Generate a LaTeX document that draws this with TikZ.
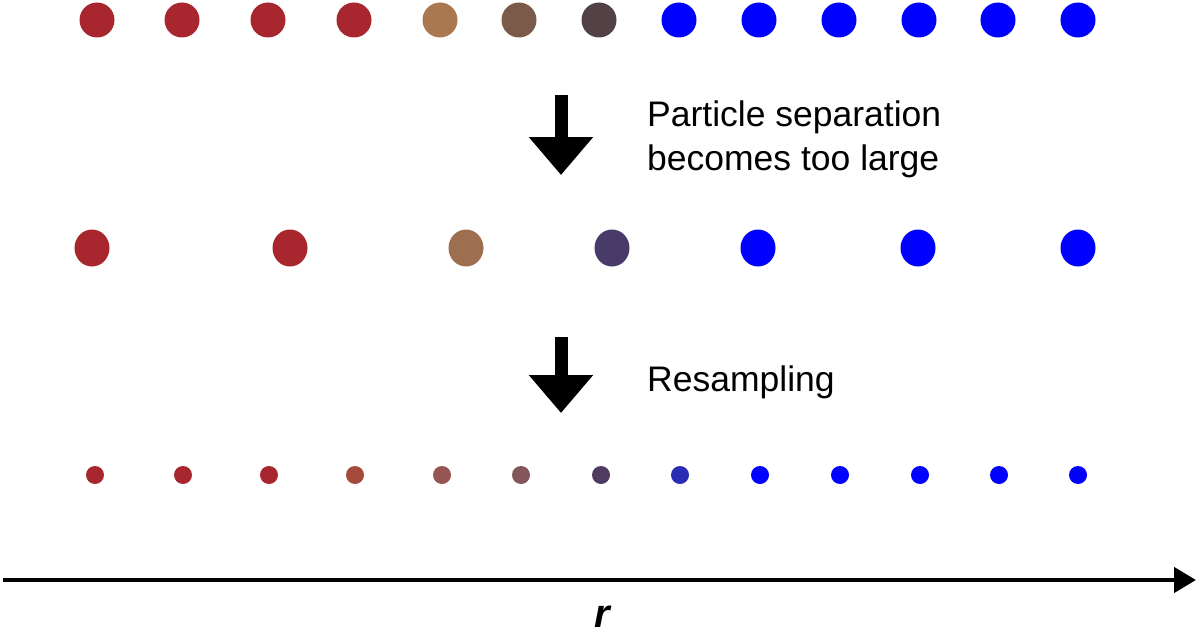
\documentclass[tikz,border=0pt]{standalone}
\usepackage{fontspec}
\setmainfont{Liberation Sans}
\usetikzlibrary{arrows.meta, shapes.geometric}

\definecolor{partred}{RGB}{168,38,46}
\definecolor{parttan}{RGB}{169,120,80}
\definecolor{partbrown}{RGB}{123,90,74}
\definecolor{partdark}{RGB}{82,66,70}
\definecolor{partblue}{RGB}{0,0,255}
\definecolor{midbrown}{RGB}{157,110,80}
\definecolor{midpurple}{RGB}{72,58,105}
\definecolor{lowrust}{RGB}{165,75,60}
\definecolor{lowmauve}{RGB}{150,85,80}
\definecolor{lowgrey}{RGB}{130,86,90}
\definecolor{lowpurple}{RGB}{80,58,95}
\definecolor{lowblue}{RGB}{40,45,180}

\tikzset{
  bigdot/.style={circle, minimum size=35pt, inner sep=0pt},
  middot/.style={ellipse, minimum width=35pt, minimum height=37pt, inner sep=0pt},
  smalldot/.style={circle, minimum size=18pt, inner sep=0pt},
  stepdown/.style={line width=13pt, -{Triangle[width=62pt,length=38pt]}},
  notetext/.style={anchor=base west, inner sep=0pt, align=left,
    font=\fontsize{35.5}{44}\selectfont}
}

\begin{document}
\begin{tikzpicture}[x=1pt, y=-1pt]
            \useasboundingbox (0,0) rectangle (1200,634);

            % Riga superiore
            \node (T1) at (97,20) [bigdot, fill=partred] {};
            \node (T2) at (182,20) [bigdot, fill=partred] {};
            \node (T3) at (268,20) [bigdot, fill=partred] {};
            \node (T4) at (354,20) [bigdot, fill=partred] {};
            \node (T5) at (440,20) [bigdot, fill=parttan] {};
            \node (T6) at (519,20) [bigdot, fill=partbrown] {};
            \node (T7) at (599,20) [bigdot, fill=partdark] {};
            \node (T8) at (679,20) [bigdot, fill=partblue] {};
            \node (T9) at (759,20) [bigdot, fill=partblue] {};
            \node (T10) at (839,20) [bigdot, fill=partblue] {};
            \node (T11) at (919,20) [bigdot, fill=partblue] {};
            \node (T12) at (998,20) [bigdot, fill=partblue] {};
            \node (T13) at (1078,20) [bigdot, fill=partblue] {};

            % Riga centrale
            \node (M1) at (92,248) [middot, fill=partred] {};
            \node (M2) at (290,248) [middot, fill=partred] {};
            \node (M3) at (466,248) [middot, fill=midbrown] {};
            \node (M4) at (612,248) [middot, fill=midpurple] {};
            \node (M5) at (758,248) [middot, fill=partblue] {};
            \node (M6) at (918,248) [middot, fill=partblue] {};
            \node (M7) at (1078,248) [middot, fill=partblue] {};

            % Riga inferiore
            \node (B1) at (95,475) [smalldot, fill=partred] {};
            \node (B2) at (183,475) [smalldot, fill=partred] {};
            \node (B3) at (269,475) [smalldot, fill=partred] {};
            \node (B4) at (355,475) [smalldot, fill=lowrust] {};
            \node (B5) at (442,475) [smalldot, fill=lowmauve] {};
            \node (B6) at (521,475) [smalldot, fill=lowgrey] {};
            \node (B7) at (601,475) [smalldot, fill=lowpurple] {};
            \node (B8) at (680,475) [smalldot, fill=lowblue] {};
            \node (B9) at (760,475) [smalldot, fill=partblue] {};
            \node (B10) at (840,475) [smalldot, fill=partblue] {};
            \node (B11) at (920,475) [smalldot, fill=partblue] {};
            \node (B12) at (999,475) [smalldot, fill=partblue] {};
            \node (B13) at (1078,475) [smalldot, fill=partblue] {};

            % Frecce e testi
            \coordinate (S1) at (561,95);
            \coordinate (E1) at (561,175);
            \draw[stepdown] (S1) -- (E1);
            \node (N1) at (647,170) [notetext] {Particle separation\\becomes too large};

            \coordinate (S2) at (561,337);
            \coordinate (E2) at (561,413);
            \draw[stepdown] (S2) -- (E2);
            \node (N2) at (647,391) [notetext] {Resampling};

            % Asse r
            \coordinate (R0) at (3,580);
            \coordinate (R1) at (1196,580);
            \draw[line width=4.5pt, -{Triangle[width=25pt,length=22pt]}] (R0) -- (R1);
            \node (R) at (602,627) [anchor=base, inner sep=0pt, font=\fontsize{40}{40}\selectfont\bfseries\itshape] {r};
        \end{tikzpicture}
\end{document}
